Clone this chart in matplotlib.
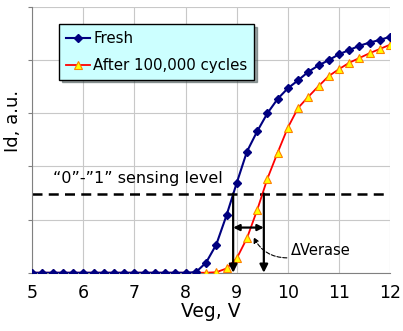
import matplotlib
matplotlib.use('Agg')
import matplotlib.pyplot as plt
import numpy as np

# gate voltage, 0.2 V steps
veg = [5.0, 5.2, 5.4, 5.6, 5.8, 6.0, 6.2, 6.4, 6.6, 6.8,
       7.0, 7.2, 7.4, 7.6, 7.8, 8.0, 8.2, 8.4, 8.6, 8.8,
       9.0, 9.2, 9.4, 9.6, 9.8, 10.0, 10.2, 10.4, 10.6, 10.8,
       11.0, 11.2, 11.4, 11.6, 11.8, 12.0]
fresh = [0, 0, 0, 0, 0, 0, 0, 0, 0, 0,
         0, 0, 0, 0, 0, 0, 0.01, 0.19, 0.53, 1.08,
         1.69, 2.28, 2.66, 3.00, 3.27, 3.47, 3.62, 3.78, 3.90, 4.00,
         4.11, 4.19, 4.27, 4.33, 4.38, 4.44]
cycled = [0, 0, 0, 0, 0, 0, 0, 0, 0, 0,
          0, 0, 0, 0, 0, 0, 0, 0, 0.01, 0.08,
          0.27, 0.65, 1.18, 1.77, 2.26, 2.73, 3.10, 3.31, 3.51, 3.70,
          3.83, 3.95, 4.04, 4.13, 4.21, 4.29]
sense_level = 1.49
vt_fresh = 8.93
vt_cycled = 9.53
xticks = [5, 6, 7, 8, 9, 10, 11, 12]

fig = plt.figure(figsize=(4.03, 3.31), dpi=100)
ax = fig.add_axes([0.08, 0.176, 0.888, 0.803])

ax.plot(veg, fresh, color='#000080', lw=1.5, marker='D', ms=4.5,
        mfc='#000080', mec='#000080', label='Fresh', zorder=4)
ax.plot(veg, cycled, color='#ff0000', lw=1.3, marker='^', ms=6,
        mfc='#ffff00', mec='#ff8000', mew=0.8, label='After 100,000 cycles', zorder=3)

# sensing level
ax.axhline(sense_level, color='black', ls=(0, (4, 2.5)), lw=1.8, zorder=2)
ax.text(5.4, 1.77, u'\u201c0\u201d-\u201d1\u201d sensing level', fontsize=11.5, va='center')

# threshold arrows down to zero
for v in (vt_fresh, vt_cycled):
    ax.annotate('', xy=(v, 0.0), xytext=(v, sense_level),
                arrowprops=dict(arrowstyle='-|>', color='black', lw=1.6,
                                mutation_scale=12, shrinkA=0, shrinkB=0), zorder=5)
ax.annotate('', xy=(vt_fresh, 0.85), xytext=(vt_cycled, 0.85),
            arrowprops=dict(arrowstyle='<|-|>', color='black', lw=1.6,
                            mutation_scale=9, shrinkA=0, shrinkB=0), zorder=5)
ax.annotate('', xy=(9.33, 0.67), xytext=(9.98, 0.28),
            arrowprops=dict(arrowstyle='-|>', color='black', lw=0.8, ls='--',
                            connectionstyle='arc3,rad=-0.3', mutation_scale=8,
                            shrinkA=0, shrinkB=0), zorder=5)
ax.text(10.06, 0.42, u'\u0394Verase', fontsize=10.5, va='center')

ax.set_xlim(5, 12)
ax.set_ylim(0, 5)
ax.set_xticks(xticks)
ax.set_yticks([0, 1, 2, 3, 4, 5])
ax.set_yticklabels([])
ax.tick_params(axis='x', labelsize=12.5, length=0, pad=8)
ax.tick_params(axis='y', length=3, color='#808080')
ax.grid(True, color='#c8c8c8', lw=0.8)
for s in ('top', 'right'):
    ax.spines[s].set_visible(False)
ax.spines['left'].set_color('#808080')
ax.spines['bottom'].set_color('#808080')
ax.set_xlabel('Veg, V', fontsize=13.5, labelpad=0)
ax.set_ylabel('Id, a.u.', fontsize=13)
ax.yaxis.set_label_coords(-0.03, 0.57)

leg = ax.legend(loc='upper left', bbox_to_anchor=(0.055, 0.964), fontsize=10.8,
                frameon=True, fancybox=False, shadow=True, handlelength=1.6,
                handletextpad=0.2, borderpad=0.45, labelspacing=0.8)
leg.get_frame().set_facecolor('#ccffff')
leg.get_frame().set_edgecolor('black')
leg.get_frame().set_alpha(1)

fig.savefig('out.png', dpi=100)
